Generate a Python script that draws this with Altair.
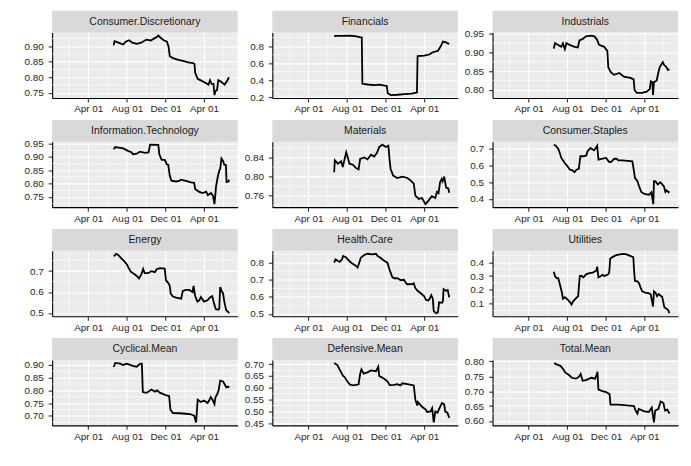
import altair as alt
import pandas as pd

W = 187
H = 66
STRIP = 22
FONT = "Liberation Sans"

x_major = ["2008-04-01", "2008-08-01", "2008-12-01", "2009-04-01"]
x_minor = ["2008-02-01", "2008-06-01", "2008-10-01", "2009-02-01", "2009-06-01"]
x_domain = ["2007-12-09", "2009-07-16"]

cd_dates = ["2008-06-20","2008-06-23","2008-07-05","2008-07-20","2008-07-28","2008-08-08","2008-08-18","2008-09-01","2008-09-15","2008-10-01","2008-10-15","2008-10-25","2008-11-03","2008-11-08","2008-11-15","2008-11-25","2008-12-05","2008-12-10","2008-12-14","2008-12-24","2009-01-10","2009-01-25","2009-02-10","2009-02-25","2009-03-02","2009-03-04","2009-03-12","2009-03-25","2009-04-05","2009-04-15","2009-04-20","2009-04-25","2009-05-01","2009-05-04","2009-05-07","2009-05-12","2009-05-16","2009-05-25","2009-06-05","2009-06-12","2009-06-19"]
cd_vals = [0.903,0.917,0.912,0.906,0.915,0.920,0.912,0.908,0.912,0.922,0.919,0.925,0.930,0.935,0.928,0.920,0.915,0.900,0.868,0.862,0.856,0.853,0.848,0.846,0.843,0.815,0.795,0.788,0.782,0.776,0.790,0.778,0.778,0.742,0.755,0.758,0.790,0.785,0.776,0.787,0.800]

fin_dates = ["2008-06-21","2008-06-25","2008-07-15","2008-08-09","2008-08-25","2008-09-10","2008-09-16","2008-09-18","2008-10-05","2008-10-26","2008-11-11","2008-11-27","2008-12-04","2008-12-07","2008-12-17","2009-01-07","2009-01-28","2009-02-20","2009-03-09","2009-03-11","2009-04-01","2009-04-17","2009-04-28","2009-05-14","2009-05-24","2009-05-30","2009-06-09","2009-06-16","2009-06-19"]
fin_vals = [0.915,0.922,0.922,0.925,0.918,0.908,0.905,0.360,0.352,0.345,0.350,0.340,0.335,0.250,0.228,0.232,0.240,0.246,0.258,0.685,0.690,0.703,0.730,0.745,0.805,0.855,0.845,0.830,0.835]

ind_dates = ["2008-06-19","2008-06-23","2008-07-03","2008-07-13","2008-07-18","2008-07-24","2008-07-29","2008-08-08","2008-08-24","2008-09-03","2008-09-08","2008-09-18","2008-09-29","2008-10-14","2008-10-25","2008-11-02","2008-11-09","2008-11-25","2008-12-05","2008-12-08","2008-12-16","2008-12-26","2009-01-12","2009-01-26","2009-02-16","2009-02-26","2009-03-01","2009-03-08","2009-03-24","2009-04-08","2009-04-18","2009-04-21","2009-04-26","2009-04-28","2009-05-01","2009-05-10","2009-05-13","2009-05-19","2009-05-29","2009-06-03","2009-06-08","2009-06-14","2009-06-19"]
ind_vals = [0.910,0.925,0.920,0.915,0.924,0.909,0.925,0.920,0.915,0.913,0.932,0.936,0.943,0.945,0.943,0.935,0.920,0.915,0.904,0.860,0.847,0.840,0.845,0.835,0.832,0.828,0.799,0.792,0.792,0.795,0.802,0.823,0.820,0.786,0.820,0.825,0.839,0.860,0.874,0.865,0.862,0.853,0.855]

it_dates = ["2008-06-20","2008-06-25","2008-07-05","2008-07-20","2008-08-04","2008-08-15","2008-08-20","2008-09-01","2008-09-11","2008-09-27","2008-10-08","2008-10-13","2008-11-08","2008-11-11","2008-11-18","2008-11-29","2008-12-04","2008-12-09","2008-12-14","2008-12-19","2009-01-03","2009-01-13","2009-01-18","2009-02-03","2009-02-19","2009-03-01","2009-03-04","2009-03-17","2009-03-28","2009-04-08","2009-04-13","2009-04-23","2009-04-29","2009-05-01","2009-05-04","2009-05-09","2009-05-14","2009-05-19","2009-05-22","2009-05-26","2009-05-31","2009-06-04","2009-06-09","2009-06-11","2009-06-17","2009-06-19"]
it_vals = [0.929,0.937,0.935,0.932,0.923,0.918,0.910,0.912,0.920,0.915,0.917,0.946,0.945,0.910,0.890,0.888,0.873,0.870,0.830,0.811,0.808,0.810,0.815,0.810,0.805,0.803,0.780,0.769,0.765,0.770,0.757,0.765,0.755,0.744,0.723,0.790,0.824,0.849,0.855,0.894,0.885,0.871,0.870,0.806,0.808,0.815]

mat_dates = ["2008-06-21","2008-06-23","2008-07-03","2008-07-13","2008-07-18","2008-07-29","2008-08-03","2008-08-08","2008-08-19","2008-08-29","2008-09-06","2008-09-11","2008-09-24","2008-10-04","2008-10-15","2008-10-25","2008-11-03","2008-11-10","2008-11-20","2008-12-01","2008-12-09","2008-12-13","2008-12-16","2008-12-24","2009-01-06","2009-01-22","2009-02-07","2009-02-17","2009-02-27","2009-03-04","2009-03-15","2009-03-25","2009-04-05","2009-04-15","2009-04-25","2009-05-06","2009-05-11","2009-05-16","2009-05-21","2009-05-26","2009-05-29","2009-06-03","2009-06-09","2009-06-16","2009-06-19"]
mat_vals = [0.809,0.834,0.827,0.832,0.820,0.851,0.840,0.827,0.825,0.818,0.815,0.837,0.840,0.836,0.846,0.842,0.850,0.862,0.867,0.862,0.865,0.834,0.816,0.802,0.797,0.800,0.797,0.792,0.785,0.760,0.753,0.755,0.742,0.750,0.759,0.755,0.768,0.765,0.788,0.795,0.790,0.800,0.777,0.775,0.766]

cs_dates = ["2008-06-19","2008-06-25","2008-07-03","2008-07-08","2008-07-13","2008-07-24","2008-08-02","2008-08-09","2008-08-16","2008-08-23","2008-08-30","2008-09-06","2008-09-11","2008-09-20","2008-09-30","2008-10-03","2008-10-13","2008-10-24","2008-10-28","2008-11-03","2008-11-07","2008-11-20","2008-12-01","2008-12-11","2008-12-16","2008-12-27","2009-01-03","2009-01-09","2009-01-22","2009-02-07","2009-02-22","2009-02-27","2009-03-02","2009-03-10","2009-03-15","2009-03-22","2009-04-01","2009-04-16","2009-04-23","2009-04-29","2009-05-01","2009-05-06","2009-05-13","2009-05-21","2009-05-26","2009-06-02","2009-06-06","2009-06-10","2009-06-16","2009-06-19"]
cs_vals = [0.724,0.718,0.700,0.674,0.645,0.614,0.594,0.575,0.572,0.560,0.575,0.580,0.655,0.655,0.660,0.684,0.704,0.690,0.700,0.718,0.635,0.641,0.645,0.620,0.620,0.640,0.640,0.630,0.630,0.628,0.625,0.566,0.526,0.506,0.477,0.442,0.430,0.425,0.440,0.369,0.507,0.505,0.487,0.500,0.490,0.473,0.442,0.452,0.440,0.445]

en_dates = ["2008-06-20","2008-06-28","2008-07-05","2008-07-12","2008-07-23","2008-08-01","2008-08-06","2008-08-13","2008-08-26","2008-09-04","2008-09-08","2008-09-16","2008-09-21","2008-09-26","2008-10-07","2008-10-17","2008-10-28","2008-11-02","2008-11-12","2008-11-28","2008-12-02","2008-12-09","2008-12-14","2008-12-17","2008-12-24","2009-01-03","2009-01-19","2009-01-24","2009-02-03","2009-02-13","2009-02-24","2009-02-27","2009-03-04","2009-03-11","2009-03-17","2009-03-22","2009-03-27","2009-04-01","2009-04-12","2009-04-19","2009-04-27","2009-05-02","2009-05-08","2009-05-16","2009-05-19","2009-05-22","2009-05-27","2009-05-31","2009-06-04","2009-06-10","2009-06-16","2009-06-19"]
en_vals = [0.771,0.783,0.776,0.765,0.748,0.732,0.716,0.697,0.684,0.673,0.665,0.687,0.710,0.690,0.690,0.700,0.695,0.708,0.714,0.712,0.656,0.644,0.629,0.592,0.578,0.573,0.568,0.605,0.610,0.610,0.600,0.629,0.581,0.554,0.560,0.576,0.565,0.554,0.560,0.573,0.580,0.549,0.518,0.515,0.520,0.624,0.602,0.595,0.554,0.513,0.505,0.498]

hc_dates = ["2008-06-21","2008-06-25","2008-07-03","2008-07-08","2008-07-16","2008-07-19","2008-07-29","2008-08-05","2008-08-16","2008-08-29","2008-09-03","2008-09-08","2008-09-13","2008-09-24","2008-10-04","2008-10-20","2008-10-31","2008-11-05","2008-11-13","2008-11-20","2008-12-01","2008-12-06","2008-12-13","2008-12-21","2008-12-27","2009-01-06","2009-01-16","2009-01-27","2009-02-01","2009-02-06","2009-02-22","2009-02-27","2009-03-04","2009-03-11","2009-03-20","2009-04-01","2009-04-06","2009-04-14","2009-04-19","2009-04-23","2009-04-28","2009-05-01","2009-05-09","2009-05-14","2009-05-18","2009-05-27","2009-05-30","2009-06-01","2009-06-08","2009-06-14","2009-06-19"]
hc_vals = [0.800,0.819,0.810,0.805,0.820,0.839,0.830,0.814,0.796,0.781,0.771,0.800,0.829,0.845,0.852,0.848,0.852,0.839,0.830,0.819,0.806,0.800,0.757,0.717,0.709,0.710,0.698,0.700,0.685,0.674,0.675,0.680,0.651,0.636,0.623,0.604,0.583,0.579,0.592,0.610,0.590,0.516,0.504,0.508,0.568,0.565,0.575,0.645,0.636,0.640,0.597]

ut_dates = ["2008-06-19","2008-06-23","2008-06-28","2008-07-03","2008-07-06","2008-07-11","2008-07-15","2008-07-18","2008-07-24","2008-08-02","2008-08-09","2008-08-14","2008-08-19","2008-08-27","2008-09-04","2008-09-09","2008-09-14","2008-09-20","2008-09-30","2008-10-10","2008-10-20","2008-10-31","2008-11-03","2008-11-07","2008-11-15","2008-11-20","2008-11-25","2008-12-06","2008-12-11","2008-12-14","2008-12-21","2008-12-31","2009-01-13","2009-01-27","2009-02-06","2009-02-17","2009-02-25","2009-02-27","2009-03-02","2009-03-10","2009-03-15","2009-03-20","2009-03-25","2009-04-06","2009-04-16","2009-04-21","2009-04-28","2009-05-01","2009-05-06","2009-05-11","2009-05-16","2009-05-21","2009-05-27","2009-05-30","2009-06-03","2009-06-11","2009-06-16","2009-06-19"]
ut_vals = [0.331,0.300,0.285,0.285,0.260,0.216,0.179,0.137,0.147,0.130,0.112,0.093,0.117,0.137,0.155,0.300,0.302,0.290,0.314,0.321,0.325,0.339,0.368,0.290,0.300,0.310,0.300,0.310,0.326,0.425,0.437,0.449,0.457,0.461,0.455,0.444,0.436,0.351,0.265,0.262,0.248,0.216,0.190,0.178,0.175,0.166,0.080,0.190,0.180,0.154,0.170,0.160,0.150,0.117,0.073,0.063,0.050,0.031]

cy_dates = ["2008-06-20","2008-06-25","2008-07-11","2008-07-19","2008-08-01","2008-08-11","2008-08-22","2008-09-01","2008-09-11","2008-09-17","2008-09-20","2008-10-01","2008-10-07","2008-10-17","2008-10-28","2008-11-04","2008-11-12","2008-11-22","2008-12-03","2008-12-12","2008-12-16","2008-12-24","2009-01-13","2009-02-03","2009-02-19","2009-03-01","2009-03-07","2009-03-12","2009-03-22","2009-04-01","2009-04-12","2009-04-17","2009-04-22","2009-04-27","2009-05-04","2009-05-07","2009-05-14","2009-05-17","2009-05-22","2009-05-31","2009-06-06","2009-06-10","2009-06-16","2009-06-19"]
cy_vals = [0.892,0.908,0.905,0.900,0.905,0.900,0.895,0.893,0.904,0.905,0.793,0.790,0.795,0.803,0.795,0.800,0.791,0.786,0.780,0.778,0.724,0.711,0.710,0.708,0.706,0.700,0.674,0.763,0.754,0.760,0.750,0.760,0.774,0.765,0.746,0.772,0.789,0.800,0.838,0.835,0.822,0.812,0.815,0.810]

df_dates = ["2008-06-21","2008-07-01","2008-07-08","2008-07-19","2008-07-24","2008-07-29","2008-08-09","2008-08-19","2008-08-29","2008-09-06","2008-09-11","2008-09-15","2008-09-22","2008-10-04","2008-10-15","2008-10-31","2008-11-07","2008-11-10","2008-11-17","2008-11-25","2008-12-06","2008-12-13","2008-12-27","2009-01-06","2009-01-16","2009-01-22","2009-02-07","2009-02-27","2009-03-04","2009-03-10","2009-03-12","2009-03-25","2009-04-06","2009-04-10","2009-04-21","2009-04-26","2009-05-01","2009-05-06","2009-05-13","2009-05-18","2009-05-27","2009-06-03","2009-06-06","2009-06-13","2009-06-19"]
df_vals = [0.705,0.696,0.678,0.650,0.645,0.634,0.614,0.610,0.612,0.615,0.659,0.678,0.660,0.665,0.673,0.670,0.689,0.650,0.645,0.638,0.627,0.611,0.612,0.615,0.610,0.619,0.615,0.610,0.550,0.525,0.540,0.520,0.508,0.498,0.500,0.514,0.454,0.500,0.495,0.511,0.536,0.530,0.500,0.495,0.473]

tm_dates = ["2008-06-20","2008-06-28","2008-07-10","2008-07-18","2008-07-25","2008-08-05","2008-08-15","2008-08-28","2008-09-06","2008-09-12","2008-09-18","2008-10-01","2008-10-15","2008-10-28","2008-11-04","2008-11-07","2008-11-20","2008-12-01","2008-12-12","2008-12-15","2009-01-10","2009-02-05","2009-02-27","2009-03-04","2009-03-10","2009-03-14","2009-04-01","2009-04-15","2009-04-24","2009-05-01","2009-05-05","2009-05-15","2009-05-22","2009-05-31","2009-06-05","2009-06-12","2009-06-19"]
tm_vals = [0.795,0.790,0.785,0.775,0.763,0.755,0.745,0.742,0.748,0.758,0.735,0.738,0.745,0.742,0.765,0.705,0.700,0.697,0.690,0.655,0.655,0.652,0.650,0.635,0.625,0.640,0.632,0.630,0.645,0.595,0.635,0.640,0.665,0.660,0.635,0.638,0.625]

panels = [
    ("Consumer.Discretionary", cd_dates, cd_vals, [0.75, 0.80, 0.85, 0.90], ".2f"),
    ("Financials", fin_dates, fin_vals, [0.2, 0.4, 0.6, 0.8], ".1f"),
    ("Industrials", ind_dates, ind_vals, [0.80, 0.85, 0.90, 0.95], ".2f"),
    ("Information.Technology", it_dates, it_vals, [0.75, 0.80, 0.85, 0.90, 0.95], ".2f"),
    ("Materials", mat_dates, mat_vals, [0.76, 0.80, 0.84], ".2f"),
    ("Consumer.Staples", cs_dates, cs_vals, [0.4, 0.5, 0.6, 0.7], ".1f"),
    ("Energy", en_dates, en_vals, [0.5, 0.6, 0.7], ".1f"),
    ("Health.Care", hc_dates, hc_vals, [0.5, 0.6, 0.7, 0.8], ".1f"),
    ("Utilities", ut_dates, ut_vals, [0.1, 0.2, 0.3, 0.4], ".1f"),
    ("Cyclical.Mean", cy_dates, cy_vals, [0.70, 0.75, 0.80, 0.85, 0.90], ".2f"),
    ("Defensive.Mean", df_dates, df_vals, [0.45, 0.50, 0.55, 0.60, 0.65, 0.70], ".2f"),
    ("Total.Mean", tm_dates, tm_vals, [0.60, 0.65, 0.70, 0.75, 0.80], ".2f"),
]


def dt(s):
    y, m, d = (int(p) for p in s.split("-"))
    return alt.DateTime(year=y, month=m, date=d, utc=True)


x_scale = alt.Scale(type="utc", domain=[dt(x_domain[0]), dt(x_domain[1])])


def x_axis():
    return alt.Axis(values=[dt(s) for s in x_major], format="%b %d", title=None)


def make_panel(name, dates, vals, ticks, fmt):
    data = pd.DataFrame({"date": dates, "value": vals})
    lo, hi = min(vals), max(vals)
    r = hi - lo
    dom = [lo - 0.05 * r, hi + 0.05 * r]
    step = ticks[1] - ticks[0]
    minors = [t - step / 2 for t in ticks] + [ticks[-1] + step / 2]
    minors = [m for m in minors if dom[0] <= m <= dom[1]]
    y_scale = alt.Scale(domain=dom, zero=False, nice=False)

    def y_axis():
        return alt.Axis(values=ticks, format=fmt, title=None)

    label = pd.DataFrame({"label": [name]})
    strip_rect = alt.Chart(label).mark_rect(color="#D9D9D9").encode(
        x=alt.value(0), x2=alt.value(W), y=alt.value(-STRIP), y2=alt.value(0)
    )
    strip_text = alt.Chart(label).mark_text(
        font=FONT, fontSize=10.5, color="#1A1A1A"
    ).encode(x=alt.value(W / 2), y=alt.value(-STRIP / 2), text="label:N")

    vminor = alt.Chart(pd.DataFrame({"date": x_minor})).mark_rule(
        color="white", strokeWidth=0.55
    ).encode(x=alt.X("date:T", scale=x_scale, axis=x_axis()))
    hminor = alt.Chart(pd.DataFrame({"value": minors})).mark_rule(
        color="white", strokeWidth=0.55
    ).encode(y=alt.Y("value:Q", scale=y_scale, axis=y_axis()))

    line = alt.Chart(data).mark_line(color="black", strokeWidth=1.8).encode(
        x=alt.X("date:T", scale=x_scale, axis=x_axis()),
        y=alt.Y("value:Q", scale=y_scale, axis=y_axis()),
    )
    return alt.layer(vminor, hminor, line, strip_rect, strip_text).properties(
        width=W, height=H
    )


charts = [make_panel(*p) for p in panels]

chart = alt.concat(
    *charts, columns=3, spacing={"row": 44, "column": 35}, bounds="flush"
).properties(
    padding={"left": 15.5, "top": 1, "right": 4, "bottom": 4}
).configure_view(
    fill="#EBEBEB", strokeWidth=0
).configure_axis(
    grid=True, gridColor="white", gridWidth=1.1,
    domainColor="black", domainWidth=1.1,
    tickColor="#333333", tickSize=4, tickWidth=1.1,
    labelFont=FONT, labelFontSize=10, labelColor="#262626",
    labelOverlap=False, labelFlush=False,
).configure_axisY(labelPadding=5).configure_axisX(labelPadding=2)

chart.save("out.html", embed_options={"renderer": "svg", "actions": False})
